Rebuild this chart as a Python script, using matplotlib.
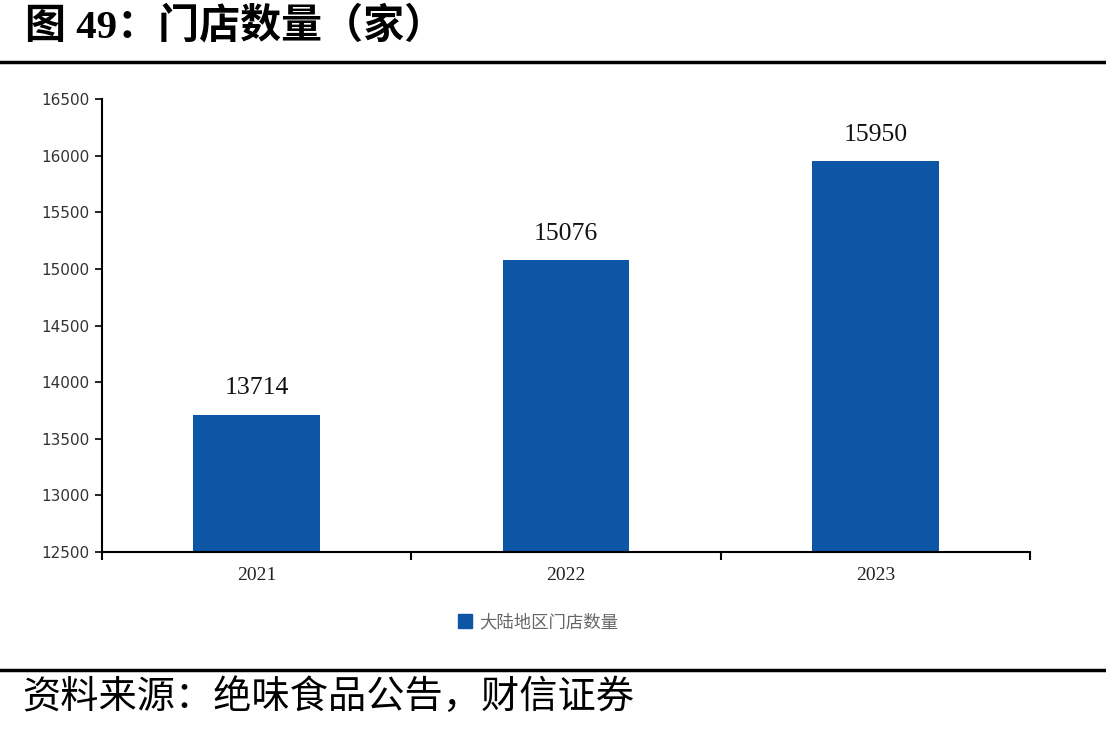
import matplotlib
matplotlib.use("Agg")
import matplotlib.pyplot as plt
from matplotlib.patches import Patch
from matplotlib.lines import Line2D

years = ["2021", "2022", "2023"]
stores = [13714, 15076, 15950]
yticks = [12500, 13000, 13500, 14000, 14500, 15000, 15500, 16000, 16500]
series_name = "大陆地区门店数量"
title = "图 49：门店数量（家）"
source = "资料来源：绝味食品公告，财信证券"

bar_color = "#0D56A6"
cjk = ["Noto Sans CJK SC", "DejaVu Sans"]
serif_cjk = ["Liberation Serif", "Noto Sans CJK SC"]

fig = plt.figure(figsize=(11.06, 7.30), dpi=100)
ax = fig.add_axes([0.0922, 0.2438, 0.8391, 0.6206])

x = list(range(len(years)))
bars = ax.bar(x, stores, width=0.41, color=bar_color, zorder=2)
for xi, v in zip(x, stores):
    ax.annotate(str(v), (xi, v), xytext=(0, 11), textcoords="offset points",
                ha="center", va="bottom", fontsize=18.5, family="Liberation Serif",
                color="#111111")

ax.set_xlim(-0.5, len(years) - 0.5)
ax.set_ylim(yticks[0], yticks[-1])
ax.set_yticks(yticks)
ax.set_yticklabels([str(t) for t in yticks], fontsize=11, family="DejaVu Sans", color="#333333")
ax.set_xticks(x)
ax.set_xticklabels(years, fontsize=14, family="Liberation Serif", color="#222222")
ax.tick_params(axis="x", which="major", length=0, pad=11)
ax.set_xticks([i - 0.5 for i in range(len(years) + 1)], minor=True)
ax.tick_params(axis="x", which="minor", length=6, width=1.5, direction="out", color="black")
ax.tick_params(axis="y", length=5, width=1.2, direction="out", color="black", pad=4)

for s in ["top", "right"]:
    ax.spines[s].set_visible(False)
for s in ["left", "bottom"]:
    ax.spines[s].set_linewidth(1.5)
    ax.spines[s].set_color("black")

handle = Patch(facecolor=bar_color, edgecolor=bar_color)
leg = fig.legend([handle], [series_name], loc="center", bbox_to_anchor=(538 / 1106, 1 - 622 / 730),
                 frameon=False, prop={"family": cjk, "size": 12.5}, handlelength=0.8,
                 handleheight=0.8, handletextpad=0.4)
for t in leg.get_texts():
    t.set_color("#666666")

fig.text(25 / 1106, 1 - 27 / 730, title, ha="left", va="center", fontsize=29.5,
         fontweight="bold", family=serif_cjk, color="black")
fig.add_artist(Line2D([0, 1], [1 - 62 / 730] * 2, color="black", linewidth=2.5,
                      transform=fig.transFigure))
fig.add_artist(Line2D([0, 1], [1 - 670 / 730] * 2, color="black", linewidth=2.5,
                      transform=fig.transFigure))
fig.text(22 / 1106, 1 - 697 / 730, source, ha="left", va="center", fontsize=27.5,
         family=cjk, color="black")

fig.savefig("out.png", dpi=100)
